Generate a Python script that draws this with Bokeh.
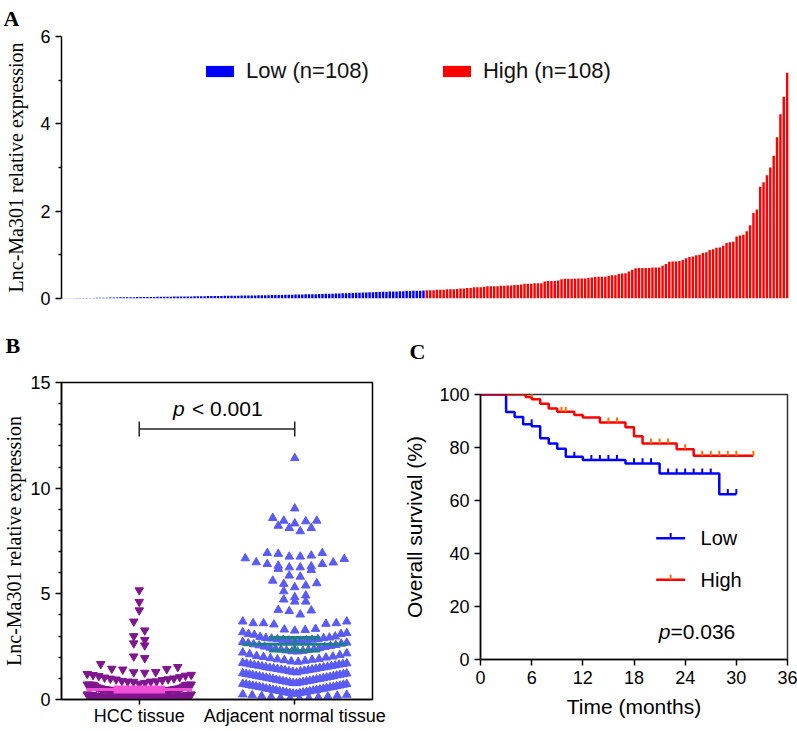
import numpy as np
from bokeh.plotting import figure
from bokeh.layouts import column, row
from bokeh.models import Range1d, FixedTicker, Label, Legend, LegendItem, Spacer
from bokeh.embed import file_html
from bokeh.resources import INLINE

SANS = "Liberation Sans"
SERIF = "Liberation Serif"

# ---------------- data ----------------
# Panel A: Lnc-Ma301 relative expression, sorted, split at median
low_expr = [
    0.004, 0.005, 0.006, 0.008, 0.009, 0.010, 0.011, 0.012, 0.013, 0.014, 0.016, 0.018, 0.019, 0.020, 0.022, 0.024, 0.025,
    0.027, 0.028, 0.029, 0.030, 0.030, 0.032, 0.033, 0.033, 0.035, 0.036, 0.037, 0.038, 0.039, 0.040, 0.040, 0.042, 0.043,
    0.044, 0.045, 0.046, 0.047, 0.048, 0.049, 0.050, 0.052,
    0.054, 0.055, 0.056, 0.058, 0.058, 0.060, 0.061, 0.062, 0.063, 0.064, 0.065, 0.066, 0.068, 0.069, 0.070, 0.071, 0.072,
    0.074, 0.075, 0.077,
    0.079, 0.080, 0.082, 0.083, 0.085, 0.086, 0.088, 0.090, 0.091, 0.093, 0.095, 0.096, 0.098, 0.100, 0.102, 0.104, 0.106,
    0.108, 0.110,
    0.113, 0.116, 0.119, 0.121, 0.124, 0.127, 0.130, 0.133, 0.136, 0.139,
    0.142, 0.145, 0.148, 0.150, 0.153, 0.155, 0.158, 0.160, 0.162, 0.165, 0.167, 0.170, 0.172, 0.175, 0.178, 0.180, 0.183,
]
high_expr = [
    0.19, 0.19, 0.19, 0.20, 0.20, 0.20, 0.21, 0.21, 0.21, 0.22, 0.23, 0.23, 0.24, 0.24, 0.26, 0.26, 0.26,
    0.27, 0.28, 0.28, 0.28, 0.28, 0.29, 0.29, 0.30, 0.30, 0.31, 0.31, 0.32, 0.34, 0.34, 0.34, 0.35, 0.35, 0.35,
    0.39, 0.40, 0.40, 0.40, 0.41, 0.44, 0.45, 0.45, 0.45, 0.45, 0.46, 0.46, 0.46, 0.47, 0.48,
    0.49, 0.50, 0.50, 0.50, 0.52, 0.53, 0.53, 0.56, 0.57, 0.58, 0.62, 0.66,
    0.69, 0.70, 0.70, 0.70, 0.70, 0.71, 0.71, 0.71, 0.75, 0.79, 0.84, 0.85, 0.85, 0.86, 0.88, 0.92, 0.95, 0.96,
    0.99, 1.00, 1.04, 1.06, 1.11, 1.13, 1.16, 1.17, 1.21, 1.27, 1.29, 1.30, 1.42, 1.44, 1.46, 1.54, 1.68,
    1.96, 2.04, 2.56, 2.66, 2.82, 3.00, 3.27, 3.69, 4.22, 4.62, 5.17,
]
group_labels = ["Low (n=108)", "High (n=108)"]

# Panel B: adjacent normal tissue expression
adjacent_expr = [
    11.42, 9.04,
    8.46, 8.33, 8.11, 7.96, 8.11, 8.59, 8.22, 8.43, 8.46,
    6.93, 6.89, 6.76, 6.65, 6.68, 6.76, 6.81, 6.93,
    6.48, 6.41, 6.30, 6.25, 6.13, 6.18, 6.25, 6.33, 6.41, 6.49,
    5.86, 5.81, 5.62, 5.50, 5.31, 5.47, 5.39, 5.12,
    4.92, 4.84, 4.63, 4.73, 4.63,
    4.21, 4.18, 4.24, 4.02,
    3.55, 3.69, 3.61, 3.58, 3.61, 3.61, 3.69,
    3.31, 3.26, 3.10, 3.06, 3.10, 3.14, 3.18, 3.29, 3.34,
    2.98, 2.96, 2.93, 2.91, 2.90, 2.88, 2.86, 2.85, 2.83, 2.82, 2.80, 2.79, 2.78, 2.77,
    2.72, 2.69, 2.66, 2.64, 2.61, 2.58, 2.56, 2.53, 2.50, 2.48, 2.45, 2.43, 2.40, 2.38, 2.36, 2.34, 2.32, 2.30, 2.28, 2.27,
    2.22, 2.18, 2.14, 2.10, 2.06, 2.03, 2.01, 1.98, 1.95, 1.92, 1.90, 1.88, 1.86, 1.83, 1.80, 1.78,
    1.73, 1.71, 1.70, 1.68, 1.66, 1.65, 1.63, 1.61, 1.60, 1.58, 1.57, 1.55, 1.53, 1.52, 1.50, 1.49, 1.47, 1.45,
    1.44, 1.42, 1.41, 1.39, 1.38, 1.36, 1.34, 1.33, 1.31, 1.28,
    1.24, 1.23, 1.21, 1.20, 1.18, 1.17, 1.15, 1.14, 1.12, 1.10, 1.09, 1.07, 1.06, 1.04, 1.03, 1.01, 1.00, 0.98, 0.97,
    0.95, 0.93, 0.92, 0.90, 0.89, 0.87, 0.86, 0.84, 0.83, 0.81, 0.80, 0.78, 0.77,
    0.74, 0.73, 0.71, 0.70, 0.68, 0.66, 0.65, 0.63, 0.62, 0.60, 0.59, 0.57, 0.56, 0.54, 0.52, 0.51, 0.49, 0.48, 0.46,
    0.45, 0.43, 0.42, 0.40, 0.39, 0.37, 0.36, 0.34, 0.33, 0.31, 0.30, 0.28, 0.27,
    0.24, 0.22, 0.20, 0.18, 0.16, 0.14, 0.12, 0.10, 0.08, 0.06, 0.05, 0.03,
]
tissue_labels = ["HCC tissue", "Adjacent normal tissue"]

# Panel C: Kaplan-Meier overall survival (%)
km_low_t = [0, 3, 4, 5, 6, 7, 8, 9, 10, 12, 17, 21, 28, 30]
km_low_s = [100, 93.4, 91.5, 88.8, 88.0, 83.5, 81.5, 79.5, 76.5, 75.3, 74.0, 70.2, 62.4, 62.4]
km_low_cens = [6, 11, 13, 14, 15, 16, 18, 19, 20, 22, 23, 24, 25, 26, 27, 29, 30]
km_high_t = [0, 5.3, 6, 7, 8, 9, 11, 12, 14, 17, 18, 19, 23, 25, 32]
km_high_s = [100, 99.1, 98.2, 96.5, 94.7, 93.5, 92.3, 91.3, 89.4, 87.6, 84.2, 81.5, 79.3, 76.9, 76.9]
km_high_cens = [5, 6, 9.5, 10, 15, 16, 20, 21, 22, 24, 26, 27, 28, 29, 30, 32]
km_labels = ["Low", "High"]

# ---------------- helpers ----------------
def style_axis(ax, size):
    ax.axis_line_color = "black"
    ax.axis_line_width = 1.5
    ax.major_tick_line_color = "black"
    ax.major_tick_line_width = 1.5
    ax.minor_tick_line_color = "black"
    ax.minor_tick_line_width = 1.5
    ax.major_tick_in = 0
    ax.minor_tick_in = 0
    ax.major_label_text_font = SANS
    ax.major_label_text_font_size = size
    ax.major_label_text_color = "black"
    ax.axis_label_text_font_style = "normal"
    ax.axis_label_text_color = "black"


def panel_letter(p, text, offset, standoff):
    p.title.text = text
    p.title.align = "left"
    p.title.vertical_align = "top"
    p.title.offset = offset
    p.title.standoff = standoff
    p.title.text_font = SERIF
    p.title.text_font_style = "bold"
    p.title.text_font_size = "22px"
    p.title.text_color = "black"


def swarm(vals, center, bin_h, bin_off, spacing_px, max_w_px, px_per_unit):
    vals = np.asarray(vals, dtype=float)
    bins = np.floor((vals - bin_off) / bin_h)
    xs = np.zeros(len(vals))
    for b in np.unique(bins):
        idx = np.where(bins == b)[0]
        idx = idx[np.argsort(vals[idx], kind="stable")]
        n = len(idx)
        sp = spacing_px if n <= 1 else min(spacing_px, max_w_px / (n - 1))
        for k, i in enumerate(idx):
            if n % 2 == 1:
                if k == 0:
                    slot = 0.0
                else:
                    m = (k + 1) // 2
                    slot = m if k % 2 == 1 else -m
            else:
                m = k // 2
                slot = (m + 0.5) if k % 2 == 0 else -(m + 0.5)
            xs[i] = center + slot * sp / px_per_unit
    return xs


# ---------------- Panel A ----------------
n_low, n_high = len(low_expr), len(high_expr)
n_all = n_low + n_high
LEFT = 61
TOTAL_W, TOTAL_H = 797, 729
hA = 308
pA = figure(width=TOTAL_W, height=hA, output_backend="svg", toolbar_location=None,
            x_range=Range1d(0, n_all + 0.2), y_range=Range1d(0, 6),
            min_border_left=LEFT, min_border_right=8, min_border_top=36, min_border_bottom=10)
pA.outline_line_color = None
pA.grid.visible = False
x_low = np.arange(n_low) + 0.5
x_high = np.arange(n_low, n_all) + 0.5
rl = pA.vbar(x=x_low, top=low_expr, width=0.72, fill_color="#0000FF", line_color=None)
rh = pA.vbar(x=x_high, top=high_expr, width=0.72, fill_color="#FF0000", line_color=None)
pA.xaxis.visible = False
style_axis(pA.yaxis[0], "18px")
pA.yaxis.ticker = FixedTicker(ticks=[0, 2, 4, 6], minor_ticks=[1, 3, 5])
pA.yaxis.major_tick_out = 6
pA.yaxis.minor_tick_out = 3
pA.yaxis.axis_label = "Lnc-Ma301 relative expression"
pA.yaxis.axis_label_text_font = SERIF
pA.yaxis.axis_label_text_font_size = "20px"
pA.yaxis.axis_label_standoff = 10
legA = Legend(items=[LegendItem(label=group_labels[0], renderers=[rl]),
                     LegendItem(label=group_labels[1], renderers=[rh])],
              orientation="horizontal", location=(141, 214), glyph_width=35, glyph_height=14,
              label_standoff=9, spacing=70, padding=0, margin=0, border_line_alpha=0,
              background_fill_alpha=0, label_text_font=SANS, label_text_font_size="22px",
              label_text_color="#111111")
pA.add_layout(legA)
panel_letter(pA, "A", -58, 8)

# ---------------- Panel B ----------------
hcc_expr = np.array(low_expr + high_expr)
adj = np.array(adjacent_expr)
hRow = TOTAL_H - hA
wB = 400
bl, br, bt, bb = LEFT, 28, 74, hRow - 391
pB = figure(width=wB, height=hRow, output_backend="svg", toolbar_location=None,
            x_range=Range1d(0, 2), y_range=Range1d(0, 15),
            min_border_left=bl, min_border_right=br, min_border_top=bt, min_border_bottom=bb)
pB.grid.visible = False
pB.outline_line_color = "black"
pB.outline_line_width = 1.5
ppu = (wB - bl - br) / 2.0
x_hcc = swarm(hcc_expr, 0.5, 0.5, 0.25, 11.0, 104.0, ppu)
x_adj = swarm(adj, 1.5, 0.5, 0.25, 11.0, 104.0, ppu)
pB.scatter(x_hcc, hcc_expr, marker="inverted_triangle", size=8.5, fill_color="#80168F", line_color="#80168F")
pB.scatter(x_adj, adj, marker="triangle", size=8.5, fill_color="#5A5AF5", line_color="#5A5AF5")

for center, vals, col in [(0.5, hcc_expr, "#F24FD8"), (1.5, adj, "#1E7F8C")]:
    m = float(np.mean(vals))
    ci = 1.96 * float(np.std(vals, ddof=1)) / np.sqrt(len(vals))
    pB.segment(x0=[center - 0.34], y0=[m], x1=[center + 0.34], y1=[m], line_color=col, line_width=3)
    pB.segment(x0=[center - 0.165] * 2, y0=[m - ci, m + ci], x1=[center + 0.165] * 2, y1=[m - ci, m + ci],
               line_color=col, line_width=3.5)
    pB.segment(x0=[center], y0=[m - ci], x1=[center], y1=[m + ci], line_color=col, line_width=3)

# significance bracket
pB.segment(x0=[0.5], y0=[12.8], x1=[1.5], y1=[12.8], line_color="#222222", line_width=1.5)
pB.segment(x0=[0.5, 1.5], y0=[12.45, 12.45], x1=[0.5, 1.5], y1=[13.15, 13.15], line_color="#222222", line_width=1.5)
pB.add_layout(Label(x=1.0, y=13.75, x_offset=-44, text="p", text_font=SANS, text_font_style="italic",
                    text_font_size="21px", text_baseline="alphabetic", text_align="left", text_color="black"))
pB.add_layout(Label(x=1.0, y=13.75, x_offset=-25, text="< 0.001", text_font=SANS,
                    text_font_size="21px", text_baseline="alphabetic", text_align="left", text_color="black"))

style_axis(pB.xaxis[0], "18px")
style_axis(pB.yaxis[0], "18px")
pB.xaxis.ticker = FixedTicker(ticks=[0.5, 1.5])
pB.xaxis.major_label_overrides = {0.5: tissue_labels[0], 1.5: tissue_labels[1]}
pB.xaxis.major_tick_out = 5
pB.xaxis.minor_tick_out = 0
pB.xaxis.major_label_standoff = 1
pB.yaxis.ticker = FixedTicker(ticks=[0, 5, 10, 15], minor_ticks=[v for v in range(16) if v % 5])
pB.yaxis.major_tick_out = 6
pB.yaxis.minor_tick_out = 3
pB.yaxis.axis_label = "Lnc-Ma301 relative expression"
pB.yaxis.axis_label_text_font = SERIF
pB.yaxis.axis_label_text_font_size = "20px"
pB.yaxis.axis_label_standoff = 2
panel_letter(pB, "B", -56, 46)

# ---------------- Panel C ----------------
shiftC = 1
wC = TOTAL_W - wB
hC = hRow - shiftC
cl, cr = 74, 10
ct = 394 - hA - shiftC
cb = hC - (659 - hA - shiftC)
pC = figure(width=wC, height=hC, output_backend="svg", toolbar_location=None,
            x_range=Range1d(0, 36), y_range=Range1d(0, 100),
            min_border_left=cl, min_border_right=cr, min_border_top=ct, min_border_bottom=cb)
pC.grid.visible = False
pC.outline_line_color = "#333333"
pC.outline_line_width = 1.5


def censor_y(T, S, tc):
    T = np.asarray(T, float)
    S = np.asarray(S, float)
    idx = np.searchsorted(T, np.asarray(tc, float), side="left") - 1
    return S[np.clip(idx, 0, len(S) - 1)]


for T, S, C, lc, tc in [(km_low_t, km_low_s, km_low_cens, "#0000FF", "#0000FF"),
                        (km_high_t, km_high_s, km_high_cens, "#FF0000", "#FF7000")]:
    pC.step(T, S, mode="after", line_color=lc, line_width=2.5)
    cy = censor_y(T, S, C)
    pC.segment(x0=C, y0=cy, x1=C, y1=cy + 1.9, line_color=tc, line_width=2)

# legend (manual, with censor ticks)
for yy, lc, tc, lab in [(45.8, "#0000FF", "#0000FF", km_labels[0]), (30.1, "#FF0000", "#FF7000", km_labels[1])]:
    pC.segment(x0=[20.6], y0=[yy], x1=[24.0], y1=[yy], line_color=lc, line_width=2.5)
    pC.segment(x0=[22.3], y0=[yy], x1=[22.3], y1=[yy + 1.9], line_color=tc, line_width=2)
    pC.add_layout(Label(x=25.8, y=yy, text=lab, text_font=SANS, text_font_size="20px",
                        text_baseline="middle", text_align="left", text_color="black"))
pC.add_layout(Label(x=20.9, y=10.4, text="p", text_font=SANS, text_font_style="italic",
                    text_font_size="21px", text_baseline="alphabetic", text_align="left", text_color="black"))
pC.add_layout(Label(x=20.9, y=10.4, x_offset=11.7, text="=0.036", text_font=SANS,
                    text_font_size="21px", text_baseline="alphabetic", text_align="left", text_color="black"))

style_axis(pC.xaxis[0], "18px")
style_axis(pC.yaxis[0], "18px")
pC.xaxis.ticker = FixedTicker(ticks=[0, 6, 12, 18, 24, 30, 36])
pC.yaxis.ticker = FixedTicker(ticks=[0, 20, 40, 60, 80, 100])
pC.xaxis.major_tick_out = 6
pC.yaxis.major_tick_out = 6
pC.xaxis.minor_tick_out = 0
pC.yaxis.minor_tick_out = 0
pC.xaxis.axis_label = "Time (months)"
pC.xaxis.axis_label_text_font = SANS
pC.xaxis.axis_label_text_font_size = "21px"
pC.xaxis.axis_label_standoff = 8
pC.yaxis.axis_label = "Overall survival (%)"
pC.yaxis.axis_label_text_font = SANS
pC.yaxis.axis_label_text_font_size = "21px"
pC.yaxis.axis_label_standoff = 10
panel_letter(pC, "C", -71, 57)

layout = column(pA, row(pB, column(Spacer(width=wC, height=shiftC), pC, spacing=0), spacing=0), spacing=0)
open("out.html", "w").write(file_html(layout, INLINE))
